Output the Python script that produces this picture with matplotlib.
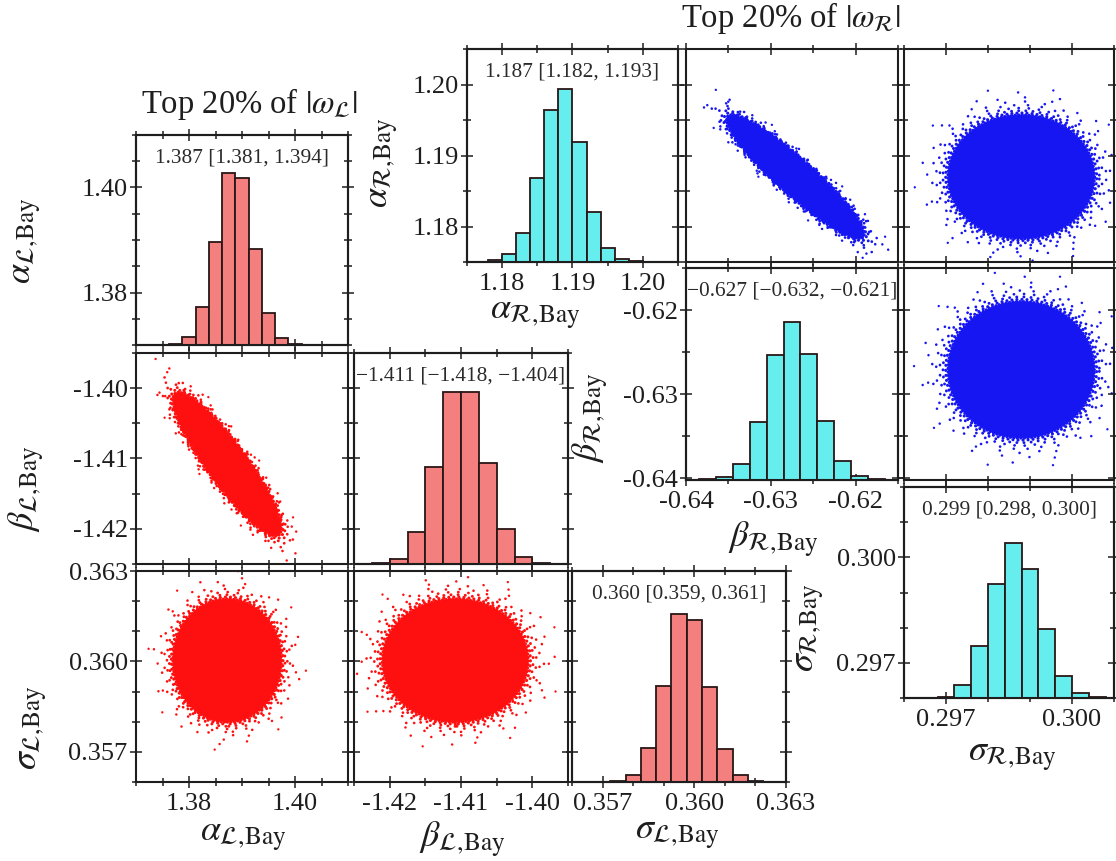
import numpy as np
import matplotlib
matplotlib.use("Agg")
import matplotlib.pyplot as plt
from matplotlib.patches import Ellipse
from matplotlib.ticker import MultipleLocator, FormatStrFormatter

plt.rcParams.update({
    "font.family": ["Liberation Serif", "DejaVu Serif"],
    "mathtext.fontset": "stix",
    "axes.unicode_minus": False,
})

# ---------------- left set (L): posterior samples summary ----------------
L_alpha_edges = [1.37625, 1.37875, 1.38125, 1.38375, 1.38625, 1.38875,
                 1.39125, 1.39375, 1.39625, 1.39875, 1.40125]
L_alpha_counts = [2, 23, 115, 310, 515, 502, 288, 97, 20, 2]
L_beta_edges = [-1.4225, -1.42, -1.4175, -1.415, -1.4125, -1.41,
                -1.4075, -1.405, -1.4025, -1.40, -1.3975]
L_beta_counts = [3, 16, 96, 288, 511, 511, 301, 103, 20, 2]
L_sigma_edges = [0.35725, 0.35775, 0.35825, 0.35875, 0.35925, 0.35975,
                 0.36025, 0.36075, 0.36125, 0.36175, 0.36225]
L_sigma_counts = [4, 22, 102, 289, 505, 487, 285, 100, 22, 3]

L_median = [1.387, -1.411, 0.360]
L_ci_low = [1.381, -1.418, 0.359]
L_ci_high = [1.394, -1.404, 0.361]

L_mean = [1.3872, -1.4108, 0.36003]
L_sd = [0.0034, 0.0034, 0.00068]
L_corr_alpha_beta = -0.90
L_corr_alpha_sigma = 0.0
L_corr_beta_sigma = 0.0

# ---------------- right set (R) ----------------
R_alpha_edges = [1.176, 1.178, 1.180, 1.182, 1.184, 1.186, 1.188,
                 1.190, 1.192, 1.194, 1.196, 1.198, 1.200]
R_alpha_counts = [1, 5, 23, 88, 252, 455, 518, 358, 149, 43, 10, 2]
R_beta_edges = [-0.6385, -0.6365, -0.6345, -0.6325, -0.6305, -0.6285,
                -0.6265, -0.6245, -0.6225, -0.6205, -0.6185, -0.6165]
R_beta_counts = [2, 10, 48, 173, 373, 471, 375, 176, 58, 11, 2]
R_sigma_edges = [0.2964, 0.2968, 0.2972, 0.2976, 0.2980, 0.2984,
                 0.2988, 0.2992, 0.2996, 0.3000, 0.3004, 0.3008]
R_sigma_counts = [1, 4, 40, 157, 340, 465, 387, 207, 65, 15, 2]

R_median = [1.187, -0.627, 0.299]
R_ci_low = [1.182, -0.632, 0.298]
R_ci_high = [1.193, -0.621, 0.300]

R_mean = [1.1870, -0.6271, 0.29879]
R_sd = [0.0029, 0.0027, 0.00058]
R_corr_alpha_beta = -0.93
R_corr_alpha_sigma = 0.0
R_corr_beta_sigma = 0.0

# ---------------- layout (pixels) ----------------
FIG_W, FIG_H = 1116, 861
L_cols = [(136, 348), (354, 568), (572, 786)]
L_rows = [(135, 345), (353, 564), (571, 782)]
R_cols = [(467, 678), (686, 898), (904, 1114)]
R_rows = [(49, 262), (268, 480), (487, 698)]

L_lims = [(1.370, 1.410), (-1.425, -1.395), (0.356, 0.363)]
R_xlims = [(1.175, 1.205), (-0.640, -0.615), (0.296, 0.301)]
R_ylims = [(1.175, 1.205), (-0.6402, -0.615), (0.296, 0.302)]
L_steps = [(0.02, 0.005), (0.01, 0.005), (0.003, 0.001)]
R_steps = [(0.01, 0.005), (0.01, 0.005), (0.003, 0.001)]
fmts = ["%.2f", "%.2f", "%.3f"]

L_peak_frac = [0.817, 0.814, 0.795]
R_peak_frac = [0.813, 0.744, 0.736]

L_HIST = "#F47F7F"
R_HIST = "#66EEEE"
L_DOT = "#FF1010"
R_DOT = "#1616F2"
INK = "#1e1e1e"

fig = plt.figure(figsize=(FIG_W / 100, FIG_H / 100), dpi=100)


def panel(cx, ry):
    x0, x1 = cx
    y0, y1 = ry
    return fig.add_axes([x0 / FIG_W, 1 - y1 / FIG_H,
                         (x1 - x0) / FIG_W, (y1 - y0) / FIG_H])


def style(ax, xlim, ylim, xstep, ystep, xfmt, yfmt, show_x, show_y):
    ax.set_xlim(xlim)
    ax.set_ylim(ylim)
    ax.xaxis.set_major_locator(MultipleLocator(xstep[0]))
    ax.xaxis.set_minor_locator(MultipleLocator(xstep[1]))
    ax.yaxis.set_major_locator(MultipleLocator(ystep[0]))
    ax.yaxis.set_minor_locator(MultipleLocator(ystep[1]))
    ax.xaxis.set_major_formatter(FormatStrFormatter(xfmt))
    ax.yaxis.set_major_formatter(FormatStrFormatter(yfmt))
    ax.tick_params(which="both", direction="inout", top=True, right=True,
                   bottom=True, left=True, labelbottom=show_x,
                   labelleft=show_y, labeltop=False, labelright=False,
                   labelsize=19, width=1.1, color=INK, labelcolor=INK)
    ax.tick_params(which="major", length=8)
    ax.tick_params(which="minor", length=6)
    ax.tick_params(axis="x", pad=4)
    ax.tick_params(axis="y", pad=2)
    for s in ax.spines.values():
        s.set_linewidth(1.5)
        s.set_color(INK)


def histogram(ax, edges, counts, peak_frac, face):
    axh = ax.twinx()
    axh.set_ylim(0, max(counts) / peak_frac)
    axh.bar(edges[:-1], counts, width=np.diff(edges), align="edge",
            color=face, edgecolor="#2a1616", linewidth=1.3)
    axh.yaxis.set_visible(False)
    for s in axh.spines.values():
        s.set_linewidth(1.5)
        s.set_color(INK)
    return axh


def summary(ax, med, lo, hi, nd):
    def f(v):
        return f"{v:.{nd}f}".replace("-", "\u2212")
    ax.text(0.5, 0.89, f"{f(med)} [{f(lo)}, {f(hi)}]", transform=ax.transAxes,
            ha="center", va="center", fontsize=15.4, color="#2a2a2a",
            zorder=10)


def cloud(ax, mx, my, sx, sy, r, color):
    cov = np.array([[sx * sx, r * sx * sy], [r * sx * sy, sy * sy]])
    vals, vecs = np.linalg.eigh(cov)
    angle = np.degrees(np.arctan2(vecs[1, 1], vecs[0, 1]))

    def ell(k, **kw):
        return Ellipse((mx, my), 2 * k * np.sqrt(vals[1]),
                       2 * k * np.sqrt(vals[0]), angle=angle, **kw)

    # dense core, then progressively sparser speckled fringe
    ax.add_patch(ell(3.0, facecolor=color, edgecolor="none", zorder=1))
    rings = [(3.00, 1.0, 2.4, 0.0), (3.10, 1.6, 2.2, 0.7),
             (3.21, 2.4, 2.1, 1.9), (3.34, 3.6, 2.0, 0.4),
             (3.49, 5.2, 1.9, 3.1), (3.66, 7.5, 1.9, 5.3),
             (3.86, 11.0, 1.8, 2.2), (4.10, 17.0, 1.8, 9.0),
             (4.40, 28.0, 1.7, 4.0)]
    for k, gap, lw, off in rings:
        ax.add_patch(ell(k, facecolor="none", edgecolor=color, linewidth=lw,
                         linestyle=(off, (0.05, gap)), capstyle="round",
                         zorder=1))


# ---------------- left corner plot ----------------
L_hists = [(L_alpha_edges, L_alpha_counts), (L_beta_edges, L_beta_counts),
           (L_sigma_edges, L_sigma_counts)]
L_corr = {(1, 0): L_corr_alpha_beta, (2, 0): L_corr_alpha_sigma,
          (2, 1): L_corr_beta_sigma}
for i in range(3):
    for j in range(i + 1):
        ax = panel(L_cols[j], L_rows[i])
        if i == j:
            edges, counts = L_hists[i]
            histogram(ax, edges, counts, L_peak_frac[i], L_HIST)
            summary(ax, L_median[i], L_ci_low[i], L_ci_high[i], 3)
        else:
            cloud(ax, L_mean[j], L_mean[i], L_sd[j], L_sd[i],
                  L_corr[(i, j)], L_DOT)
        style(ax, L_lims[j], L_lims[i], L_steps[j], L_steps[i],
              fmts[j], fmts[i], show_x=(i == 2), show_y=(j == 0))

# ---------------- right corner plot ----------------
R_hists = [(R_alpha_edges, R_alpha_counts), (R_beta_edges, R_beta_counts),
           (R_sigma_edges, R_sigma_counts)]
R_corr = {(0, 1): R_corr_alpha_beta, (0, 2): R_corr_alpha_sigma,
          (1, 2): R_corr_beta_sigma}
for i in range(3):
    for j in range(i, 3):
        ax = panel(R_cols[j], R_rows[i])
        if i == j:
            edges, counts = R_hists[i]
            histogram(ax, edges, counts, R_peak_frac[i], R_HIST)
            summary(ax, R_median[i], R_ci_low[i], R_ci_high[i], 3)
        else:
            cloud(ax, R_mean[j], R_mean[i], R_sd[j], R_sd[i],
                  R_corr[(i, j)], R_DOT)
        style(ax, R_xlims[j], R_ylims[i], R_steps[j], R_steps[i],
              fmts[j], fmts[i], show_x=(i == j), show_y=(i == j))

# ---------------- titles and axis labels ----------------
fig.text(249 / FIG_W, 1 - 113 / FIG_H, r"Top 20% of $|\omega_{\mathcal{L}}|$",
         ha="center", va="baseline", fontsize=23.5, color=INK)
fig.text(791 / FIG_W, 1 - 27 / FIG_H, r"Top 20% of $|\omega_{\mathcal{R}}|$",
         ha="center", va="baseline", fontsize=23.5, color=INK)

sym = [r"\alpha", r"\beta", r"\sigma"]
L_ylabel_px = [(28, 241), (27, 489), (33, 728)]
L_xlabel_px = [(243, 838), (462, 840), (677, 836)]
R_ylabel_px = [(384, 163), (591, 418), (811, 628)]
R_xlabel_px = [(535, 315), (773, 540), (1012, 757)]

for k in range(3):
    lab_L = rf"${sym[k]}_{{\mathcal{{L}},\!\mathrm{{Bay}}}}$"
    lab_R = rf"${sym[k]}_{{\mathcal{{R}},\!\mathrm{{Bay}}}}$"
    for (px, py), lab, rot in [(L_ylabel_px[k], lab_L, 90),
                               (L_xlabel_px[k], lab_L, 0),
                               (R_ylabel_px[k], lab_R, 90),
                               (R_xlabel_px[k], lab_R, 0)]:
        fig.text(px / FIG_W, 1 - py / FIG_H, lab, rotation=rot,
                 ha="center", va="center", fontsize=26, color=INK)

fig.savefig("out.png", dpi=100)
